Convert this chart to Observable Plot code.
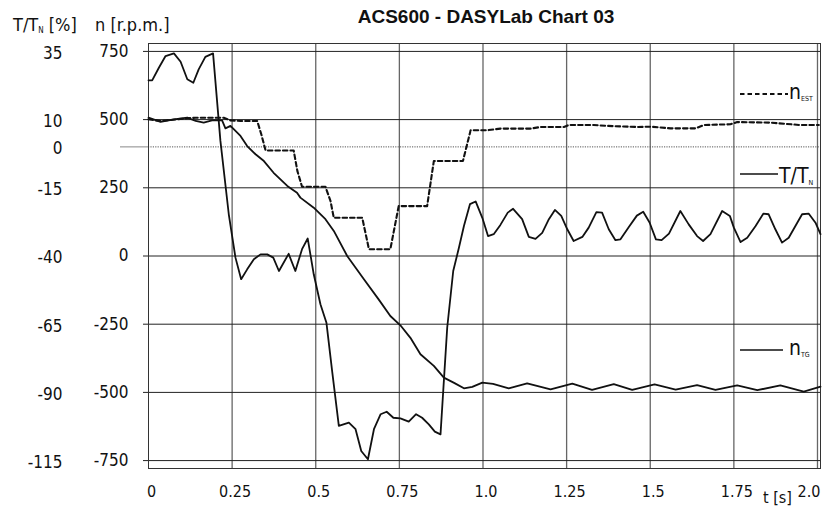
<!DOCTYPE html>
<html><head><meta charset="utf-8">
<script src="https://cdn.jsdelivr.net/npm/d3@7"></script>
<script src="https://cdn.jsdelivr.net/npm/@observablehq/plot@0.6"></script>
<style>html,body{margin:0;padding:0;background:#fff}svg{display:block}</style>
</head><body><div id="chart"></div>
<script>
// ---- data ----
const xTicks = [0, 0.25, 0.5, 0.75, 1.0, 1.25, 1.5, 1.75, 2.0];
const xLabels = ["0", "0.25", "0.5", "0.75", "1.0", "1.25", "1.5", "1.75", "2.0"];
const nTicks = [750, 500, 250, 0, -250, -500, -750];
const tTicks = [35, 10, 0, -15, -40, -65, -90, -115];

const torqueTime = [0, 0.011, 0.031, 0.051, 0.076, 0.096, 0.116, 0.134, 0.150, 0.170, 0.193, 0.215, 0.240, 0.260, 0.277, 0.295, 0.315, 0.335, 0.355, 0.373, 0.390, 0.419, 0.439, 0.459, 0.476, 0.494, 0.514, 0.532, 0.549, 0.569, 0.599, 0.619, 0.636, 0.656, 0.674, 0.694, 0.712, 0.732, 0.753, 0.778, 0.800, 0.818, 0.838, 0.856, 0.873, 0.893, 0.911, 0.928, 0.943, 0.961, 0.978, 0.998, 1.015, 1.032, 1.052, 1.074, 1.090, 1.117, 1.137, 1.157, 1.177, 1.197, 1.215, 1.234, 1.252, 1.271, 1.297, 1.316, 1.339, 1.356, 1.376, 1.396, 1.411, 1.436, 1.460, 1.479, 1.498, 1.517, 1.534, 1.556, 1.590, 1.615, 1.640, 1.658, 1.680, 1.715, 1.738, 1.750, 1.770, 1.790, 1.815, 1.838, 1.854, 1.874, 1.894, 1.914, 1.934, 1.954, 1.974, 1.994, 2.009];
const torqueValue = [24.4, 24.4, 29, 33.3, 34.3, 31.2, 24.8, 23.5, 28.4, 33, 34.3, 2.2, -24.7, -40.6, -48.5, -44.9, -41.2, -39.4, -39.4, -40.6, -45.5, -39.2, -45.5, -37.5, -33.6, -46.7, -57.7, -64.5, -82.2, -102.3, -101.1, -103.5, -111.5, -114.5, -103.5, -98, -97.1, -99.3, -99.5, -100.7, -98, -99.3, -101.7, -104.4, -105.4, -66.3, -45.5, -37, -29, -21, -20, -26, -32.7, -32, -28.6, -24.1, -22.7, -26.5, -33, -33.7, -31.5, -26.5, -23.1, -25.3, -30.2, -34.5, -33, -29.6, -23.9, -24.1, -30.2, -34.2, -33.9, -29.4, -25.2, -23.8, -27.7, -33.9, -34.2, -31.8, -23.5, -28.4, -32.7, -34.5, -32, -23.5, -25.3, -29.6, -34.9, -33.3, -29, -24.5, -24.7, -30.2, -35.1, -33.3, -29, -24.7, -24.5, -27.8, -32];

const nEstTime = [0, 0.036, 0.116, 0.141, 0.225, 0.245, 0.275, 0.325, 0.337, 0.350, 0.434, 0.445, 0.459, 0.529, 0.544, 0.554, 0.639, 0.659, 0.723, 0.748, 0.833, 0.853, 0.940, 0.963, 1.013, 1.052, 1.142, 1.172, 1.242, 1.256, 1.331, 1.371, 1.461, 1.502, 1.561, 1.636, 1.660, 1.740, 1.760, 1.860, 1.949, 2.004];
const nEstValue = [501, 495, 505, 507, 507, 497, 495, 495, 447, 387, 387, 312, 254, 254, 202, 140, 140, 25, 25, 183, 183, 348, 348, 461, 461, 467, 467, 473, 473, 480, 480, 477, 473, 474, 468, 468, 480, 483, 491, 489, 480, 480];

const nTgTime = [0, 0.036, 0.076, 0.116, 0.141, 0.165, 0.190, 0.220, 0.230, 0.245, 0.275, 0.295, 0.320, 0.345, 0.374, 0.415, 0.444, 0.454, 0.494, 0.529, 0.554, 0.594, 0.644, 0.688, 0.723, 0.753, 0.783, 0.813, 0.853, 0.883, 0.915, 0.943, 0.968, 0.998, 1.030, 1.077, 1.132, 1.202, 1.267, 1.326, 1.391, 1.446, 1.513, 1.576, 1.640, 1.695, 1.760, 1.820, 1.889, 1.959, 2.009];
const nTgValue = [507, 492, 501, 507, 495, 489, 497, 497, 468, 477, 440, 403, 373, 348, 305, 257, 232, 214, 177, 135, 92, 0, -85, -159, -220, -254, -300, -360, -403, -446, -466, -485, -480, -464, -469, -485, -467, -489, -468, -491, -470, -491, -471, -490, -473, -491, -474, -492, -474, -497, -479];

// torque [%] -> speed axis units: 35% <-> 750 rpm, 10% <-> 500 rpm
const toN = T => 10 * T + 400;
const torqueData = torqueTime.map((t, i) => ({t, n: toN(torqueValue[i])}));
const nEstData = nEstTime.map((t, i) => ({t, n: nEstValue[i]}));
const nTgData = nTgTime.map((t, i) => ({t, n: nTgValue[i]}));

const FONT = "'DejaVu Sans Condensed','Liberation Sans Narrow','DejaVu Sans',sans-serif";
const ink = "#111";
const DASH = "4.5,3";

const chart = Plot.plot({
  width: 830, height: 508,
  marginTop: 43, marginBottom: 40, marginLeft: 148, marginRight: 10,
  style: {fontFamily: FONT, fontSize: "16px", color: ink, background: "#fff"},
  x: {domain: [0, 2.009], label: null},
  y: {domain: [-779, 779], label: null},
  marks: [
    Plot.ruleX(xTicks.filter(d => d > 0), {stroke: "#666", strokeWidth: 1.3}),
    Plot.ruleY(nTicks, {stroke: "#222", strokeWidth: 1}),
    Plot.ruleY([toN(0)], {stroke: "#555", strokeDasharray: "1.2,1.2"}),
    Plot.axisY([toN(0)], {tickSize: 28, stroke: "#888", text: null}),
    Plot.axisY(nTicks, {tickSize: 5, tickPadding: 15, stroke: "#222", tickFormat: d => String(d), fontSize: 17}),
    Plot.axisY(tTicks.map(toN), {tickSize: 0, tickPadding: 86, tickFormat: (d, i) => String(tTicks[i]), fontSize: 17, dy: 2}),
    Plot.axisX(xTicks.slice(0, -1), {tickSize: 0, tickPadding: 17, tickFormat: (d, i) => xLabels[i], fontSize: 16, dx: 3}),
    Plot.axisX(xTicks.slice(-1), {tickSize: 0, tickPadding: 17, tickFormat: () => xLabels[xLabels.length - 1], fontSize: 16, textAnchor: "end", dx: 3}),
    Plot.frame({stroke: "#333"}),
    Plot.line(torqueData, {x: "t", y: "n", stroke: ink, strokeWidth: 1.8}),
    Plot.line(nTgData, {x: "t", y: "n", stroke: ink, strokeWidth: 1.8}),
    Plot.line(nEstData, {x: "t", y: "n", stroke: ink, strokeWidth: 2.1, strokeDasharray: DASH})
  ]
});
document.getElementById("chart").appendChild(chart);

// ---- titles, axis captions and legend ----
const svg = d3.select(chart);
svg.append("text").attr("x", 486).attr("y", 23).attr("text-anchor", "middle")
  .attr("font-family", "'Liberation Sans',Arial,sans-serif").attr("font-weight", "bold")
  .attr("font-size", 19).attr("fill", ink).text("ACS600 - DASYLab Chart 03");

function label(x, y, main, subText, size, subSize, rest) {
  const t = svg.append("text").attr("x", x).attr("y", y).attr("font-family", FONT)
    .attr("text-anchor", "start").attr("font-size", size).attr("fill", ink);
  t.append("tspan").text(main);
  if (subText) t.append("tspan").attr("font-size", subSize).attr("dy", 2).text(subText);
  if (rest) t.append("tspan").attr("dy", -2).attr("font-size", size).text(rest);
  return t;
}
label(13, 31, "T/T", "N", 18, 8, " [%]");
label(95, 31, "n [r.p.m.]", null, 18);
label(763, 503, "t [s]", null, 16);

// legend
svg.append("line").attr("x1", 740).attr("x2", 788).attr("y1", 94).attr("y2", 94)
  .attr("stroke", ink).attr("stroke-width", 2.2).attr("stroke-dasharray", DASH);
label(789, 99, "n", "EST", 21, 7);
svg.append("line").attr("x1", 740).attr("x2", 778).attr("y1", 174).attr("y2", 174)
  .attr("stroke", ink).attr("stroke-width", 1.4);
label(779, 183, "T/T", "N", 21, 7);
svg.append("line").attr("x1", 740).attr("x2", 783).attr("y1", 350).attr("y2", 350)
  .attr("stroke", ink).attr("stroke-width", 1.6);
label(789, 355, "n", "TG", 21, 7);
</script>
</body></html>
